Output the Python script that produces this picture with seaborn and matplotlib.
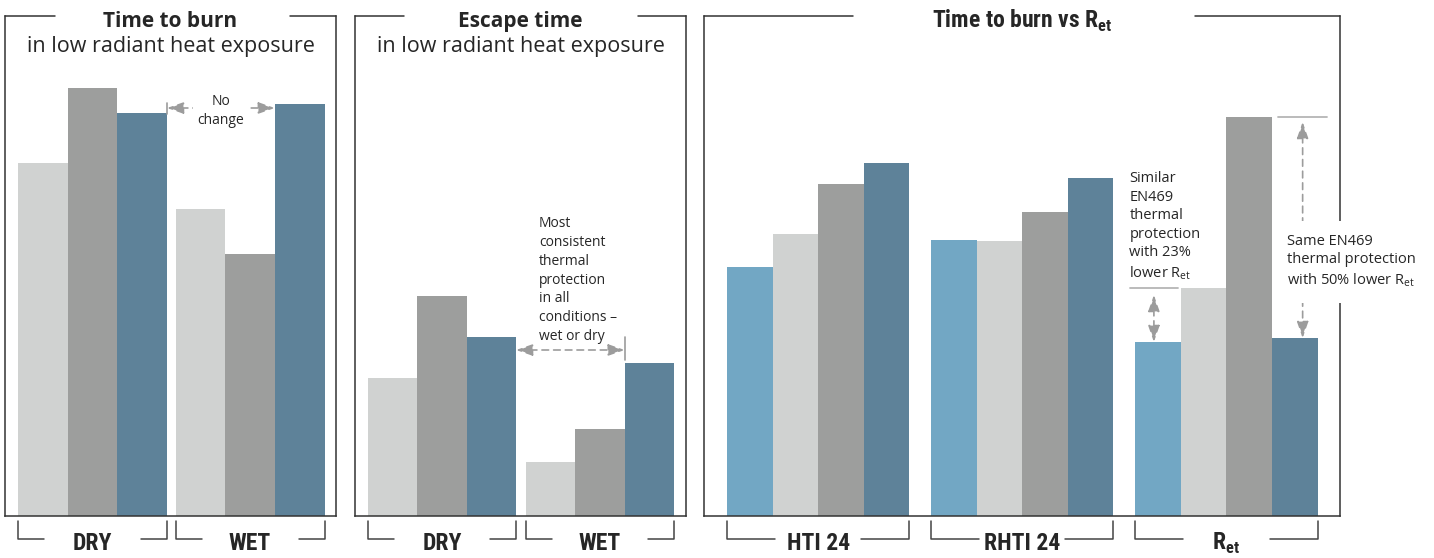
import matplotlib
matplotlib.use("Agg")
import matplotlib.pyplot as plt
import matplotlib.transforms as mtransforms
from matplotlib import font_manager
import pandas as pd
import seaborn as sns

# values (no axis in the original, 0-100 = full panel height)
conditions = ["DRY", "WET"]
fabrics = ["Fabric A", "Fabric B", "Fabric C"]
burn_dry = [70.6, 85.6, 80.6]
burn_wet = [61.4, 52.4, 82.4]
escape_dry = [27.6, 44.0, 35.8]
escape_wet = [10.8, 17.4, 30.6]

measures = ["HTI 24", "RHTI 24", "Ret"]
measure_labels = ["HTI 24", "RHTI 24", r"R$_{\mathbf{et}}$"]
fabrics_ret = ["Fabric D", "Fabric A", "Fabric B", "Fabric C"]
hti24 = [49.8, 56.4, 66.4, 70.6]
rhti24 = [55.2, 55.0, 60.8, 67.6]
ret = [34.8, 45.6, 79.8, 35.6]

palette = {"Fabric A": "#d0d2d1", "Fabric B": "#9d9e9d",
           "Fabric C": "#5e8299", "Fabric D": "#72a7c4"}
FRAME = "#333333"
BRACKET = "#444444"
ARROW = "#9c9c9c"

sns.set_style("white")
available = {f.name for f in font_manager.fontManager.ttflist}
cond_font = next((f for f in ["Roboto Condensed", "Liberation Sans Narrow", "DejaVu Sans"]
                  if f in available), "DejaVu Sans")
plt.rcParams["font.family"] = ["Open Sans", "DejaVu Sans"]
plt.rcParams["mathtext.fontset"] = "custom"
plt.rcParams["mathtext.rm"] = "Open Sans"
plt.rcParams["mathtext.bf"] = cond_font + ":bold"


def long_df(cats, hues, rows):
    recs = []
    for cat, vals in zip(cats, rows):
        for h, v in zip(hues, vals):
            recs.append({"group": cat, "fabric": h, "value": v})
    return pd.DataFrame(recs)


def draw_panel(ax, df, cats, hues, width, xlim, gap):
    sns.barplot(data=df, x="group", y="value", hue="fabric", order=cats, hue_order=hues,
                palette=palette, width=width, gap=0, saturation=1, errorbar=None,
                legend=False, linewidth=0, ax=ax)
    ax.set_ylim(0, 100)
    ax.set_xlim(*xlim)
    ax.set_xticks([])
    ax.set_yticks([])
    ax.set_xlabel("")
    ax.set_ylabel("")
    for side in ["left", "right", "bottom"]:
        ax.spines[side].set_color(FRAME)
        ax.spines[side].set_linewidth(1.1)
    ax.spines["top"].set_visible(False)
    # top edge with a gap for the title
    ax.plot([0, gap[0]], [1, 1], transform=ax.transAxes, color=FRAME, lw=1.1, clip_on=False)
    ax.plot([gap[1], 1], [1, 1], transform=ax.transAxes, color=FRAME, lw=1.1, clip_on=False)


def brackets(ax, labels, seg, fontsize=17):
    trans = mtransforms.blended_transform_factory(ax.transData, ax.transAxes)
    for i, lab in enumerate(labels):
        first = ax.containers[0][i]
        last = ax.containers[-1][i]
        left = first.get_x()
        right = last.get_x() + last.get_width()
        ax.plot([left, left, left + seg], [-0.01, -0.046, -0.046], transform=trans,
                color=BRACKET, lw=1.1, clip_on=False)
        ax.plot([right - seg, right, right], [-0.046, -0.046, -0.01], transform=trans,
                color=BRACKET, lw=1.1, clip_on=False)
        ax.text((left + right) / 2, -0.068, lab, transform=trans, ha="center", va="baseline",
                fontsize=fontsize, fontweight="bold", family=cond_font)


def arrow(ax, p0, p1):
    ax.annotate("", xy=p1, xytext=p0,
                arrowprops=dict(arrowstyle="<|-|>,head_length=1.0,head_width=0.35",
                                color=ARROW, lw=1.2, linestyle=(0, (4, 3)),
                                shrinkA=0, shrinkB=0))


fig = plt.figure(figsize=(14.34, 5.58), dpi=100)
W, H = 1434, 558
ax1 = fig.add_axes([5 / W, 42 / H, 331 / W, 500 / H])
ax2 = fig.add_axes([355 / W, 42 / H, 331 / W, 500 / H])
ax3 = fig.add_axes([704 / W, 42 / H, 636 / W, 500 / H])

# panel 1: time to burn
draw_panel(ax1, long_df(conditions, fabrics, [burn_dry, burn_wet]), conditions, fabrics,
           0.946, (-0.556, 1.546), (0.151, 0.861))
brackets(ax1, conditions, 0.165)
ax1.text(0.5, 0.978, "Time to burn", transform=ax1.transAxes, ha="center", va="baseline",
         fontsize=15, fontweight="bold")
ax1.text(0.5, 0.928, "in low radiant heat exposure", transform=ax1.transAxes, ha="center",
         va="baseline", fontsize=15.5)
x_left = ax1.containers[2][0].get_x() + ax1.containers[2][0].get_width()
x_right = ax1.containers[2][1].get_x()
arrow(ax1, (x_left, 81.6), (x_right, 81.6))
ax1.plot([x_left, x_left], [80.4, 82.6], color=ARROW, lw=1.2)
ax1.text((x_left + x_right) / 2, 81.0, "No\nchange", ha="center", va="center", fontsize=10,
         linespacing=1.3, bbox=dict(facecolor="white", edgecolor="none", pad=3))

# panel 2: escape time
draw_panel(ax2, long_df(conditions, fabrics, [escape_dry, escape_wet]), conditions, fabrics,
           0.937, (-0.551, 1.544), (0.148, 0.855))
brackets(ax2, conditions, 0.165)
ax2.text(0.5, 0.978, "Escape time", transform=ax2.transAxes, ha="center", va="baseline",
         fontsize=15, fontweight="bold")
ax2.text(0.5, 0.928, "in low radiant heat exposure", transform=ax2.transAxes, ha="center",
         va="baseline", fontsize=15.5)
x_left = ax2.containers[2][0].get_x() + ax2.containers[2][0].get_width()
x_right = ax2.containers[2][1].get_x()
arrow(ax2, (x_left, 33.2), (x_right, 33.2))
ax2.plot([x_right, x_right], [31.2, 35.8], color=ARROW, lw=1.2)
ax2.text(0.614, 60.0, "Most\nconsistent\nthermal\nprotection\nin all\nconditions \u2013\nwet or dry",
         ha="left", va="top", fontsize=10, linespacing=1.35)

# panel 3: time to burn vs Ret
draw_panel(ax3, long_df(measures, fabrics_ret, [hti24, rhti24, ret]), measures, fabrics_ret,
           0.892, (-0.559, 2.556), (0.234, 0.772))
brackets(ax3, measure_labels, 0.235)
ax3.text(0.5, 0.976, r"Time to burn vs R$_{\mathbf{et}}$", transform=ax3.transAxes,
         ha="center", va="baseline", fontsize=17, fontweight="bold", family=cond_font)

light = ax3.containers[1][2]
base = ax3.containers[0][2]
lx0 = light.get_x() - 0.25
lx1 = light.get_x() - 0.015
ax3.plot([lx0, lx1], [light.get_height()] * 2, color="#b5b5b5", lw=1.3)
arrow(ax3, ((lx0 + lx1) / 2, light.get_height() - 1.4), ((lx0 + lx1) / 2, base.get_height()))
ax3.text(1.525, 69.0, "Similar\nEN469\nthermal\nprotection\nwith 23%\nlower R$_{\\mathrm{et}}$",
         ha="left", va="top", fontsize=10.5, linespacing=1.32)

tall = ax3.containers[2][2]
short = ax3.containers[3][2]
rx0 = tall.get_x() + tall.get_width() + 0.03
rx1 = tall.get_x() + tall.get_width() + 0.27
ax3.plot([rx0, rx1], [tall.get_height()] * 2, color="#b5b5b5", lw=1.3)
arrow(ax3, ((rx0 + rx1) / 2, tall.get_height() - 1.0), ((rx0 + rx1) / 2, short.get_height()))
ax3.text(2.294, 56.4, "Same EN469\nthermal protection\nwith 50% lower R$_{\\mathrm{et}}$",
         ha="left", va="top", fontsize=10.5, linespacing=1.3, zorder=5,
         bbox=dict(facecolor="white", edgecolor="none", pad=10))

fig.savefig("out.png", dpi=100, facecolor="white")
